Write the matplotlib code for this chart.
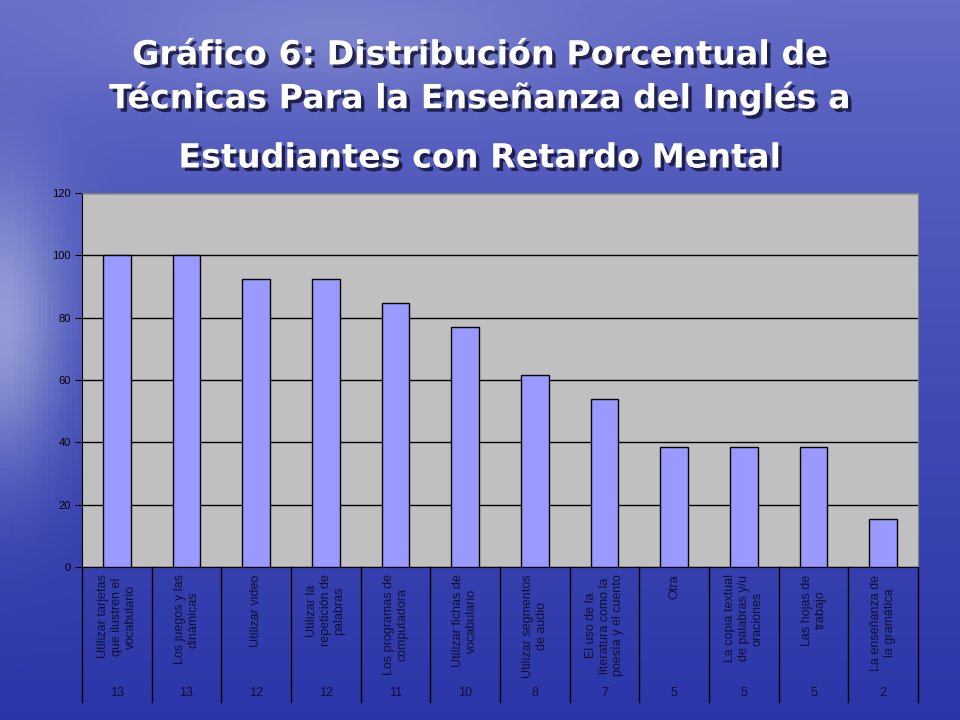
import numpy as np
import matplotlib
matplotlib.use("Agg")
from matplotlib import pyplot as plt
import matplotlib.patheffects as pe

categorias = [
    "Utilizar tarjetas\nque ilustren el\nvocabulario",
    "Los juegos y las\ndinámicas",
    "Utilizar video",
    "Utilizar la\nrepetición de\npalabras",
    "Los programas de\ncomputadora",
    "Utilizar fichas de\nvocabulario",
    "Utilizar segmentos\nde audio",
    "El uso de la\nliteratura como la\npoesía y el cuento",
    "Otra",
    "La copia textual\nde palabras y/u\noraciones",
    "Las hojas de\ntrabajo",
    "La enseñanza de\nla gramática",
]
porcentajes = [100, 100, 92.3, 92.3, 84.6, 76.9, 61.5, 53.8, 38.5, 38.5, 38.5, 15.4]
frecuencias = [13, 13, 12, 12, 11, 10, 8, 7, 5, 5, 5, 2]

titulo = [
    "Gráfico 6: Distribución Porcentual de",
    "Técnicas Para la Enseñanza del Inglés a",
    "Estudiantes con Retardo Mental",
]

plt.rcParams["font.family"] = ["Liberation Sans", "DejaVu Sans"]

fig = plt.figure(figsize=(9.6, 7.2), dpi=100)

# fondo azul degradado
bg = fig.add_axes([0, 0, 1, 1], zorder=-10)
yy, xx = np.mgrid[0:1:200j, 0:1:200j]
top = np.array([0.40, 0.43, 0.78])
bottom = np.array([0.17, 0.21, 0.66])
light = np.array([0.78, 0.81, 0.92])
t = yy[..., None] ** 0.8
img = top * (1 - t) + bottom * t
glow = np.exp(-((xx - 0.0) ** 2) / 0.004 - ((yy - 0.45) ** 2) / 0.04)[..., None] * 0.6
glow2 = np.exp(-((xx - 0.35) ** 2) / 0.06 - ((yy - 0.05) ** 2) / 0.006)[..., None] * 0.25
img = img * (1 - glow - glow2) + light * (glow + glow2)
bg.imshow(np.clip(img, 0, 1), aspect="auto", extent=[0, 1, 0, 1], origin="upper")
bg.axis("off")

ax = fig.add_axes([82 / 960, 1 - 567 / 720, (918 - 82) / 960, (567 - 193) / 720])
ax.set_facecolor("#c0c0c0")
x = np.arange(len(categorias))
ax.bar(x, porcentajes, width=0.4, color="#9999ff", edgecolor="black", linewidth=1, zorder=3)
ax.set_xlim(-0.5, len(categorias) - 0.5)
ax.set_ylim(0, 120)
ax.set_yticks(range(0, 121, 20))
ax.yaxis.grid(True, color="black", linewidth=1, zorder=1)
ax.set_axisbelow(True)
ax.tick_params(axis="y", direction="out", length=5, labelsize=8, colors="black", pad=3)
ax.set_xticks([])
for s in ["top", "right"]:
    ax.spines[s].set_color("#808080")
ax.spines["left"].set_color("black")
ax.spines["bottom"].set_color("black")

# tabla de categorias bajo el eje
tr = ax.get_xaxis_transform()
for b in np.arange(len(categorias) + 1) - 0.5:
    ax.plot([b, b], [0, -0.361], color="black", lw=1, transform=tr, clip_on=False)
for i, (c, n) in enumerate(zip(categorias, frecuencias)):
    ax.text(i, -0.02, c, rotation=90, ha="center", va="top", multialignment="center",
            fontsize=9, transform=tr, linespacing=1.2, color="#101030")
    ax.text(i, -0.337, str(n), ha="center", va="center", fontsize=9, transform=tr,
            color="#101030")

sombra = [pe.SimplePatchShadow(offset=(2.5, -2.5), shadow_rgbFace="#101030", alpha=0.8),
          pe.Normal()]
for txt, yp in zip(titulo, [55, 98, 158]):
    fig.text(0.5, 1 - yp / 720, txt, ha="center", va="center", fontsize=24,
             fontweight="bold", color="white", family="DejaVu Sans",
             path_effects=sombra)

fig.savefig("out.png", dpi=100)
